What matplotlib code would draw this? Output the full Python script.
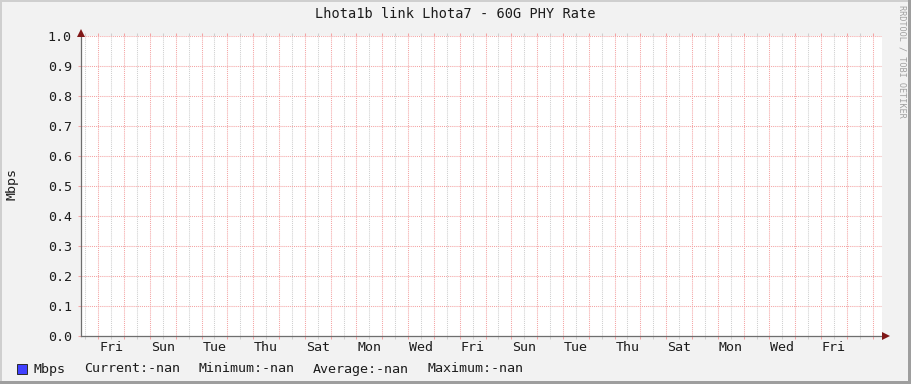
import numpy as np
import matplotlib
matplotlib.use("Agg")
import matplotlib.pyplot as plt
from matplotlib.patches import Rectangle
from matplotlib.ticker import FixedLocator, FixedFormatter

# ---------------- data ----------------
title = "Lhota1b link Lhota7 - 60G PHY Rate"
y_label = "Mbps"
series_name = "Mbps"
day_labels = ["Fri", "Sun", "Tue", "Thu", "Sat", "Mon", "Wed", "Fri",
              "Sun", "Tue", "Thu", "Sat", "Mon", "Wed", "Fri"]
y_ticks = [0.0, 0.1, 0.2, 0.3, 0.4, 0.5, 0.6, 0.7, 0.8, 0.9, 1.0]
mbps = [np.nan] * 32          # no data in the period (all NaN)
stat_names = ["Current", "Minimum", "Average", "Maximum"]
stat_values = ["-nan", "-nan", "-nan", "-nan"]
watermark = "RRDTOOL / TOBI OETIKER"

# ---------------- layout / style ----------------
W, H = 911, 384
MONO = "DejaVu Sans Mono"
FS = 9.6
RED = "#F4A4A4"
GREY = "#CFCFCF"
ARROW = "#801818"
AXIS = "#6E6E6E"
TXT = "#1C1C1C"

span = 31.03        # days shown
offset = 0.67       # first midnight after graph start (days)

fig = plt.figure(figsize=(W / 100, H / 100), dpi=100, facecolor="#F2F2F2")
ax = fig.add_axes([81 / W, (H - 336) / H, 801 / W, 300 / H])
ax.set_facecolor("white")

days = np.arange(len(mbps))
ax.plot(days, mbps, color="#4040FF", lw=1)

ax.set_xlim(0, span)
ax.set_ylim(0, 1.0)

# x grid: red every midnight, grey every noon
major_x = np.arange(offset, span, 1.0)
minor_x = np.arange(offset - 0.5, span, 1.0)
ax.xaxis.set_major_locator(FixedLocator(major_x))
ax.xaxis.set_minor_locator(FixedLocator(minor_x))
ax.xaxis.set_major_formatter(FixedFormatter([""] * len(major_x)))
minor_lbls = [""] * len(minor_x)
for k, lab in enumerate(day_labels):
    idx = 1 + 2 * k
    if idx < len(minor_lbls):
        minor_lbls[idx] = lab
ax.xaxis.set_minor_formatter(FixedFormatter(minor_lbls))

ax.set_yticks(y_ticks)
ax.set_yticklabels([f"{v:.1f}" for v in y_ticks])

dot = (0, (1, 1))
ax.grid(which="major", axis="both", color=RED, linestyle=dot, linewidth=0.75)
ax.grid(which="minor", axis="x", color=GREY, linestyle=dot, linewidth=0.75)
ax.set_axisbelow(True)

ax.tick_params(axis="x", which="major", direction="out", length=2.2, width=0.75,
               color=RED, top=True, bottom=True, labelbottom=False)
ax.tick_params(axis="x", which="minor", direction="out", length=2.2, width=0.75,
               color=GREY, top=True, bottom=True, labelsize=FS, labelcolor=TXT,
               pad=1.5)
ax.tick_params(axis="y", which="major", direction="out", length=2.2, width=0.75,
               color=RED, labelsize=FS, labelcolor=TXT, pad=4.5)
for lab in ax.get_xticklabels(minor=True) + ax.get_yticklabels():
    lab.set_family(MONO)

for s in ["top", "right"]:
    ax.spines[s].set_visible(False)
for s in ["left", "bottom"]:
    ax.spines[s].set_color(AXIS)
    ax.spines[s].set_linewidth(0.9)

# axis arrows
ax.plot([0], [1.0 + 3 / 300], marker="^", ms=6, color=ARROW, transform=ax.transAxes,
        clip_on=False, markeredgewidth=0, zorder=5)
ax.plot([1.0 + 4 / 801], [0], marker=">", ms=6, color=ARROW, transform=ax.transAxes,
        clip_on=False, markeredgewidth=0, zorder=5)

# texts
fig.text(455 / W, 1 - 14.5 / H, title, ha="center", va="center",
         family=MONO, size=9.8, color=TXT)
fig.text(12 / W, 1 - 184 / H, y_label, ha="center", va="center", rotation=90,
         family=MONO, size=FS, color=TXT)
fig.text(902 / W, 1 - 5 / H, watermark, ha="center", va="top", rotation=-90,
         family=MONO, size=6.1, color="#A0A0A0")

# legend
fig.patches.append(Rectangle((17 / W, 1 - 374 / H), 10 / W, 10 / H,
                             transform=fig.transFigure, facecolor="#4040FF",
                             edgecolor="#2A2A2A", linewidth=0.7))
legend_items = [series_name] + [f"{n}:{v}" for n, v in zip(stat_names, stat_values)]
legend_x = [34, 84, 198.5, 313, 427.5]
for xpos, item in zip(legend_x, legend_items):
    fig.text(xpos / W, 1 - 372.5 / H, item, ha="left", va="baseline",
             family=MONO, size=FS, color=TXT)

# frame (3D-ish border)
fig.patches.append(Rectangle((0, 1 - 2 / H), 1, 2 / H, transform=fig.transFigure,
                             facecolor="#CFCFCF", edgecolor="none"))
fig.patches.append(Rectangle((0, 0), 2 / W, 1, transform=fig.transFigure,
                             facecolor="#CFCFCF", edgecolor="none"))
fig.patches.append(Rectangle((0, 0), 1, 3 / H, transform=fig.transFigure,
                             facecolor="#9E9E9E", edgecolor="none"))
fig.patches.append(Rectangle((1 - 3 / W, 0), 3 / W, 1, transform=fig.transFigure,
                             facecolor="#9E9E9E", edgecolor="none"))

fig.savefig("out.png", dpi=100, facecolor=fig.get_facecolor())
